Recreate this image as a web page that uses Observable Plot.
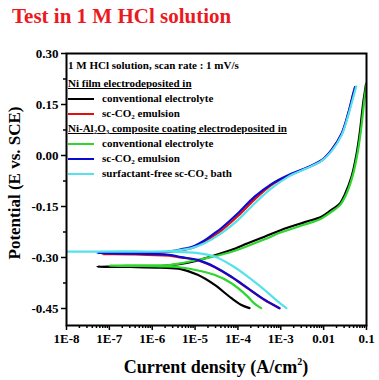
<!DOCTYPE html>
<html><head><meta charset="utf-8">
<script src="https://cdn.jsdelivr.net/npm/d3@7"></script>
<script src="https://cdn.jsdelivr.net/npm/@observablehq/plot@0.6"></script>
<style>
body{margin:0;background:#fff;}
#wrap{position:relative;width:379px;height:380px;overflow:hidden;font-family:'Liberation Serif','DejaVu Serif',serif;font-weight:bold;}
#title{position:absolute;left:12px;top:4px;font-size:21px;color:#ea1a1f;white-space:nowrap;}
#chart{position:absolute;left:0;top:36px;}
#legend{position:absolute;left:68px;top:58px;font-size:11px;color:#000;}
#legend .row{height:15px;line-height:15px;white-space:nowrap;display:flex;align-items:center;}
#legend .sw{display:inline-block;width:26px;height:2px;margin-right:8px;}
#legend sub{font-size:7px;vertical-align:-2px;line-height:0;}
#xtitle{position:absolute;left:216px;top:357px;transform:translateX(-50%);font-size:18px;white-space:nowrap;}
#xtitle sup{font-size:10px;vertical-align:8px;line-height:0;}
#ytitle{position:absolute;left:15px;top:183px;transform:translate(-50%,-50%) rotate(-90deg);font-size:17px;white-space:nowrap;}
</style></head>
<body>
<div id="wrap">
  <div id="title">Test in 1 M HCl solution</div>
  <div id="chart"></div>
  <div id="legend"></div>
  <div id="xtitle">Current density (A/cm<sup>2</sup>)</div>
  <div id="ytitle">Potential (E vs. SCE)</div>
</div>
<script>
const FONT = "'Liberation Serif','DejaVu Serif',serif";
// ---- axis ticks ----
const xMajor = [1e-8, 1e-7, 1e-6, 1e-5, 1e-4, 1e-3, 1e-2, 1e-1];
const xMajorLabels = ["1E-8", "1E-7", "1E-6", "1E-5", "1E-4", "1E-3", "0.01", "0.1"];
const yMajor = [-0.45, -0.30, -0.15, 0.00, 0.15, 0.30];
const yMajorLabels = ["-0.45", "-0.30", "-0.15", "0.00", "0.15", "0.30"];
const yMinor = [-0.375, -0.225, -0.075, 0.075, 0.225];

// ---- series: log10(current density) and potential ----
const niConvLogI = [-3.73, -3.93, -4.16, -4.55, -4.94, -5.33, -5.80, -6.50, -7.28, -6.50, -5.80, -5.33, -4.98, -4.63, -4.16, -3.77, -3.38, -2.99, -2.44, -2.05, -1.82, -1.62, -1.51, -1.35, -1.23, -1.15, -1.08, -1.01];
const niConvE    = [-0.449, -0.439, -0.419, -0.380, -0.351, -0.334, -0.330, -0.328, -0.327, -0.326, -0.325, -0.319, -0.310, -0.297, -0.278, -0.258, -0.239, -0.219, -0.196, -0.180, -0.160, -0.141, -0.116, -0.063, 0.006, 0.074, 0.152, 0.211];

const niScLogI = [-3.03, -3.38, -3.77, -4.16, -4.55, -4.94, -5.33, -5.56, -6.40, -7.16, -6.40, -5.70, -5.33, -5.02, -4.78, -4.55, -4.39, -4.00, -3.61, -3.22, -2.83, -2.44, -2.05, -1.82, -1.58, -1.43, -1.31, -1.26];
const niScE    = [-0.449, -0.425, -0.391, -0.357, -0.328, -0.308, -0.300, -0.295, -0.291, -0.290, -0.288, -0.285, -0.279, -0.270, -0.254, -0.235, -0.221, -0.178, -0.129, -0.087, -0.060, -0.039, -0.015, 0.015, 0.063, 0.121, 0.180, 0.201];

const compConvLogI = [-3.46, -3.62, -3.77, -4.16, -4.55, -5.02, -5.41, -6.20, -7.01, -6.20, -5.60, -5.33, -4.98, -4.63, -4.16, -3.39, -2.99, -2.44, -2.05, -1.82, -1.62, -1.48, -1.33, -1.21, -1.13, -1.06, -1.00];
const compConvE    = [-0.449, -0.435, -0.415, -0.375, -0.351, -0.336, -0.328, -0.325, -0.324, -0.323, -0.322, -0.317, -0.308, -0.299, -0.284, -0.247, -0.226, -0.203, -0.185, -0.166, -0.146, -0.116, -0.063, 0.006, 0.074, 0.152, 0.211];

const compScLogI = [-3.03, -3.38, -3.77, -4.16, -4.55, -4.94, -5.33, -5.56, -6.40, -7.28, -6.40, -5.70, -5.33, -5.02, -4.78, -4.55, -4.39, -4.00, -3.61, -3.22, -2.83, -2.44, -2.05, -1.82, -1.58, -1.43, -1.31, -1.27];
const compScE    = [-0.449, -0.424, -0.390, -0.356, -0.327, -0.307, -0.299, -0.293, -0.289, -0.287, -0.286, -0.284, -0.276, -0.266, -0.250, -0.229, -0.214, -0.170, -0.121, -0.084, -0.058, -0.038, -0.014, 0.016, 0.065, 0.123, 0.182, 0.201];

const compFreeLogI = [-2.87, -3.07, -3.38, -3.77, -4.16, -4.55, -4.94, -5.56, -6.80, -8.00, -6.80, -5.60, -5.10, -4.78, -4.39, -4.00, -3.61, -3.22, -2.83, -2.44, -2.05, -1.82, -1.58, -1.43, -1.30, -1.24];
const compFreeE    = [-0.449, -0.429, -0.395, -0.356, -0.322, -0.297, -0.287, -0.283, -0.283, -0.283, -0.282, -0.281, -0.273, -0.258, -0.229, -0.190, -0.141, -0.097, -0.063, -0.040, -0.016, 0.012, 0.060, 0.116, 0.175, 0.203];

const seriesNames  = ["conventional electrolyte (Ni)", "sc-CO2 emulsion (Ni)", "conventional electrolyte (Ni-Al2O3)", "sc-CO2 emulsion (Ni-Al2O3)", "surfactant-free sc-CO2 bath"];
const seriesColors = ["#000000", "#e01010", "#2ed62e", "#0a0ad0", "#55e2ec"];
const seriesLogI = [niConvLogI, niScLogI, compConvLogI, compScLogI, compFreeLogI];
const seriesE    = [niConvE, niScE, compConvE, compScE, compFreeE];

const rows = [];
seriesNames.forEach((name, s) => {
  seriesLogI[s].forEach((li, k) => rows.push({series: name, i: Math.pow(10, li), E: seriesE[s][k], k}));
});

const xMinor = [];
for (let d = -8; d < -1; d++) for (let m = 2; m <= 9; m++) xMinor.push(m * Math.pow(10, d));

const plot = Plot.plot({
  width: 379,
  height: 344,
  marginLeft: 66,
  marginRight: 13,
  marginTop: 17,
  marginBottom: 55,
  style: {fontFamily: FONT, fontWeight: "bold", fontSize: "13px", color: "#000", background: "#fff"},
  x: {type: "log", domain: [1e-8, 0.1]},
  y: {domain: [-0.5, 0.3]},
  color: {domain: seriesNames, range: seriesColors},
  marks: [
    Plot.axisX(xMinor, {tickSize: 3, tickFormat: () => "", label: null, strokeWidth: 1.5}),
    Plot.axisX(xMajor, {tickSize: 5, tickPadding: 3, tickFormat: d => xMajorLabels[xMajor.indexOf(d)], label: null, strokeWidth: 1.5, fontSize: 13, fontWeight: "bold", fontFamily: FONT}),
    Plot.axisY(yMinor, {tickSize: 3, tickFormat: () => "", label: null, strokeWidth: 1.5}),
    Plot.axisY(yMajor, {tickSize: 5, tickPadding: 3, tickFormat: d => yMajorLabels[yMajor.indexOf(d)], label: null, strokeWidth: 1.5, fontSize: 13, fontWeight: "bold", fontFamily: FONT}),
    Plot.line(rows, {x: "i", y: "E", z: "series", stroke: "series", strokeWidth: 2.2, curve: "catmull-rom", clip: true}),
    Plot.frame({stroke: "#000", strokeWidth: 2})
  ]
});
document.getElementById("chart").appendChild(plot);

// ---- legend (inside plot area) ----
const legendRows = [
  {html: "1 M HCl solution, scan rate : 1 mV/s"},
  {html: "<u>Ni film electrodeposited in</u>"},
  {color: seriesColors[0], html: "conventional electrolyte"},
  {color: seriesColors[1], html: "sc-CO<sub>2</sub> emulsion"},
  {html: "<u>Ni-Al<sub>2</sub>O<sub>3</sub> composite coating electrodeposited in</u>"},
  {color: seriesColors[2], html: "conventional electrolyte"},
  {color: seriesColors[3], html: "sc-CO<sub>2</sub> emulsion"},
  {color: seriesColors[4], html: "surfactant-free sc-CO<sub>2</sub> bath"}
];
const leg = document.getElementById("legend");
legendRows.forEach((r, idx) => {
  const div = document.createElement("div");
  div.className = "row";
  if (idx === 0) div.style.marginBottom = "3px";
  div.innerHTML = (r.color ? `<span class="sw" style="background:${r.color}"></span>` : "") + `<span>${r.html}</span>`;
  leg.appendChild(div);
});
</script>
</body></html>
